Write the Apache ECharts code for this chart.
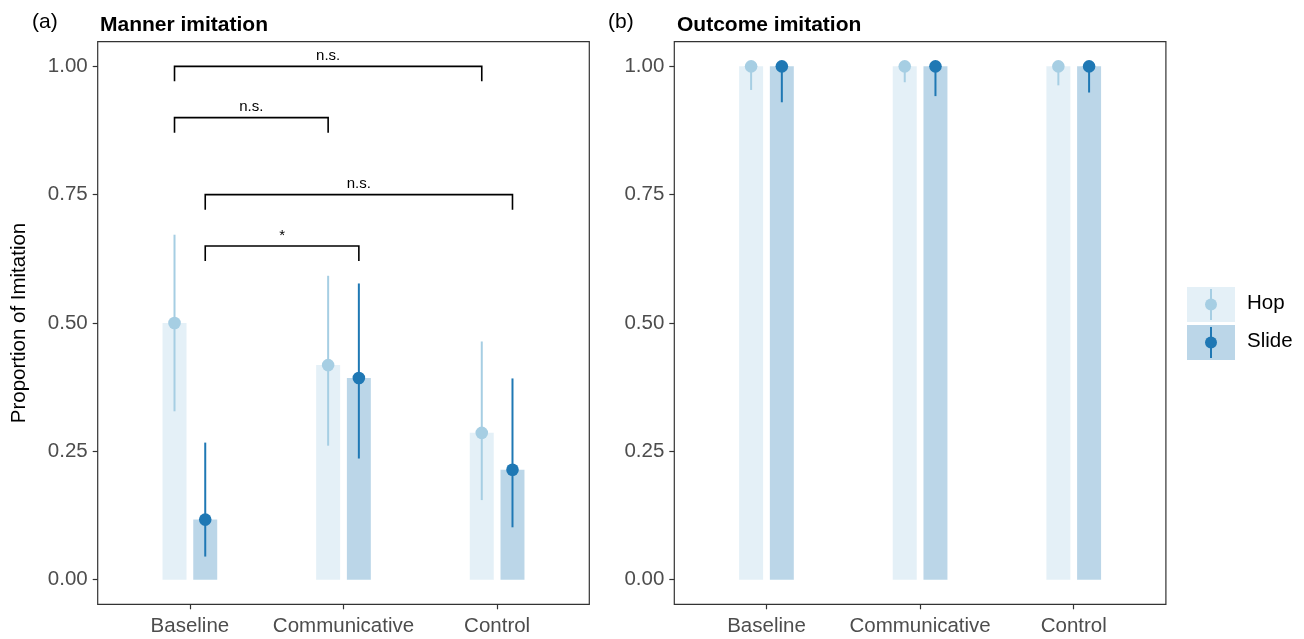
<!DOCTYPE html>
<html>
<head>
<meta charset="utf-8">
<script src="https://cdn.jsdelivr.net/npm/echarts@6/dist/echarts.min.js"></script>
<style>
  html, body { margin: 0; padding: 0; background: #fff; }
  #chart { width: 1304px; height: 639px; }
</style>
</head>
<body>
<div id="chart"></div>
<script>
const conditions = ['Baseline', 'Communicative', 'Control'];
const groups = ['Hop', 'Slide'];
const yTicks = [0, 0.25, 0.5, 0.75, 1];

// Manner imitation (panel a): mean, lower CI, upper CI
const mannerHop = [0.500, 0.418, 0.286];
const mannerHopLow = [0.328, 0.261, 0.155];
const mannerHopHigh = [0.672, 0.592, 0.464];
const mannerSlide = [0.117, 0.393, 0.214];
const mannerSlideLow = [0.045, 0.236, 0.102];
const mannerSlideHigh = [0.267, 0.577, 0.392];

// Outcome imitation (panel b)
const outcomeHop = [1, 1, 1];
const outcomeHopLow = [0.954, 0.969, 0.963];
const outcomeHopHigh = [1, 1, 1];
const outcomeSlide = [1, 1, 1];
const outcomeSlideLow = [0.930, 0.942, 0.949];
const outcomeSlideHigh = [1, 1, 1];

// comparisons in panel a: [condition, group, condition, group, height, label]
const brackets = [
    [0, 0, 2, 0, 1.00, 'n.s.'],
    [0, 0, 1, 0, 0.90, 'n.s.'],
    [0, 1, 2, 1, 0.75, 'n.s.'],
    [0, 1, 1, 1, 0.65, '*']
];

const colors = ['#a6cee3', '#1f78b4'];
const FONT = '"Liberation Sans", Arial, Helvetica, sans-serif';
const DODGE = 0.1;
const BAR_HALF = 0.078;

function rows(mean, low, high) {
    return mean.map((v, i) => [i, v, low[i], high[i]]);
}

function barSeries(name, g, gridIndex, data) {
    return {
        name: name,
        type: 'custom',
        xAxisIndex: gridIndex,
        yAxisIndex: gridIndex,
        clip: false,
        data: data,
        encode: { x: 0, y: [1, 2, 3] },
        renderItem: function (params, api) {
            const x = api.value(0) + (g === 0 ? -DODGE : DODGE);
            const base = api.coord([x, 0]);
            const top = api.coord([x, api.value(1)]);
            const lo = api.coord([x, api.value(2)]);
            const hi = api.coord([x, api.value(3)]);
            const hw = api.size([BAR_HALF, 0])[0];
            return {
                type: 'group',
                children: [
                    {
                        type: 'rect',
                        shape: { x: top[0] - hw, y: top[1], width: hw * 2, height: base[1] - top[1] },
                        style: { fill: colors[g], opacity: 0.3 }
                    },
                    {
                        type: 'line',
                        shape: { x1: lo[0], y1: lo[1], x2: hi[0], y2: hi[1] },
                        style: { stroke: colors[g], lineWidth: 2 }
                    },
                    {
                        type: 'circle',
                        shape: { cx: top[0], cy: top[1], r: 6.3 },
                        style: { fill: colors[g] }
                    }
                ]
            };
        }
    };
}

function xAxis(gridIndex) {
    return {
        type: 'value',
        gridIndex: gridIndex,
        min: -0.6,
        max: 2.6,
        splitLine: { show: false },
        axisLine: { show: false, onZero: false },
        axisTick: { show: true, customValues: [0, 1, 2], length: 5, lineStyle: { color: '#333', width: 1.2 } },
        axisLabel: {
            customValues: [0, 1, 2],
            formatter: v => conditions[Math.round(v)],
            color: '#4d4d4d', fontSize: 20.5, fontFamily: FONT, margin: 12
        }
    };
}

function yAxis(gridIndex, name) {
    return {
        type: 'value',
        gridIndex: gridIndex,
        min: -0.048,
        max: 1.048,
        name: name,
        nameLocation: 'middle',
        nameRotate: 90,
        nameGap: 68,
        nameTextStyle: { color: '#000', fontSize: 20.5, fontFamily: FONT },
        splitLine: { show: false },
        axisLine: { show: false, onZero: false },
        axisTick: { show: true, customValues: yTicks, length: 5, lineStyle: { color: '#333', width: 1.2 } },
        axisLabel: {
            customValues: yTicks,
            formatter: v => v.toFixed(2),
            color: '#4d4d4d', fontSize: 20.5, fontFamily: FONT, margin: 10
        }
    };
}

const chart = echarts.init(document.getElementById('chart'));

const option = {
    animation: false,
    backgroundColor: '#fff',
    title: [
        { text: '(a)', left: 32, top: 12, padding: 0, textStyle: { fontSize: 21, fontWeight: 'normal', color: '#000', fontFamily: FONT } },
        { text: 'Manner imitation', left: 100, top: 15, padding: 0, textStyle: { fontSize: 21, fontWeight: 'bold', color: '#000', fontFamily: FONT } },
        { text: '(b)', left: 608, top: 12, padding: 0, textStyle: { fontSize: 21, fontWeight: 'normal', color: '#000', fontFamily: FONT } },
        { text: 'Outcome imitation', left: 677, top: 15, padding: 0, textStyle: { fontSize: 21, fontWeight: 'bold', color: '#000', fontFamily: FONT } }
    ],
    grid: [
        { left: 97.7, top: 41.7, width: 491.6, height: 562.6, show: true, borderColor: '#333', borderWidth: 1.2, backgroundColor: '#fff' },
        { left: 674.3, top: 41.7, width: 491.6, height: 562.6, show: true, borderColor: '#333', borderWidth: 1.2, backgroundColor: '#fff' }
    ],
    xAxis: [xAxis(0), xAxis(1)],
    yAxis: [yAxis(0, 'Proportion of Imitation'), yAxis(1, '')],
    series: [
        barSeries(groups[0], 0, 0, rows(mannerHop, mannerHopLow, mannerHopHigh)),
        barSeries(groups[1], 1, 0, rows(mannerSlide, mannerSlideLow, mannerSlideHigh)),
        barSeries(groups[0], 0, 1, rows(outcomeHop, outcomeHopLow, outcomeHopHigh)),
        barSeries(groups[1], 1, 1, rows(outcomeSlide, outcomeSlideLow, outcomeSlideHigh)),
        {
            type: 'custom',
            xAxisIndex: 0,
            yAxisIndex: 0,
            clip: false,
            data: brackets,
            renderItem: function (params, api) {
                const xa = api.value(0) + (api.value(1) === 0 ? -DODGE : DODGE);
                const xb = api.value(2) + (api.value(3) === 0 ? -DODGE : DODGE);
                const h = api.value(4);
                const p1 = api.coord([xa, h]);
                const p2 = api.coord([xb, h]);
                const tail = 15;
                return {
                    type: 'group',
                    children: [
                        {
                            type: 'polyline',
                            shape: { points: [[p1[0], p1[1] + tail], p1, p2, [p2[0], p2[1] + tail]] },
                            style: { stroke: '#000', lineWidth: 1.6, fill: null }
                        },
                        {
                            type: 'text',
                            style: {
                                text: brackets[params.dataIndex][5],
                                x: (p1[0] + p2[0]) / 2, y: p1[1] - 3,
                                align: 'center', verticalAlign: 'bottom',
                                fontSize: 15, fontFamily: FONT, fill: '#000'
                            }
                        }
                    ]
                };
            }
        }
    ],
    graphic: [
        { type: 'rect', left: 1187, top: 287, shape: { width: 48, height: 35 }, style: { fill: colors[0], opacity: 0.3 } },
        { type: 'line', shape: { x1: 1211, y1: 289, x2: 1211, y2: 320 }, style: { stroke: colors[0], lineWidth: 2 } },
        { type: 'circle', shape: { cx: 1211, cy: 304.5, r: 6 }, style: { fill: colors[0] } },
        { type: 'text', left: 1247, top: 293, style: { text: groups[0], fontSize: 20.5, fontFamily: FONT, fill: '#000' } },
        { type: 'rect', left: 1187, top: 325, shape: { width: 48, height: 35 }, style: { fill: colors[1], opacity: 0.3 } },
        { type: 'line', shape: { x1: 1211, y1: 327, x2: 1211, y2: 358 }, style: { stroke: colors[1], lineWidth: 2 } },
        { type: 'circle', shape: { cx: 1211, cy: 342.5, r: 6 }, style: { fill: colors[1] } },
        { type: 'text', left: 1247, top: 331, style: { text: groups[1], fontSize: 20.5, fontFamily: FONT, fill: '#000' } }
    ]
};

chart.setOption(option);
window.addEventListener('resize', function () {
    chart.resize();
});
</script>
</body>
</html>
